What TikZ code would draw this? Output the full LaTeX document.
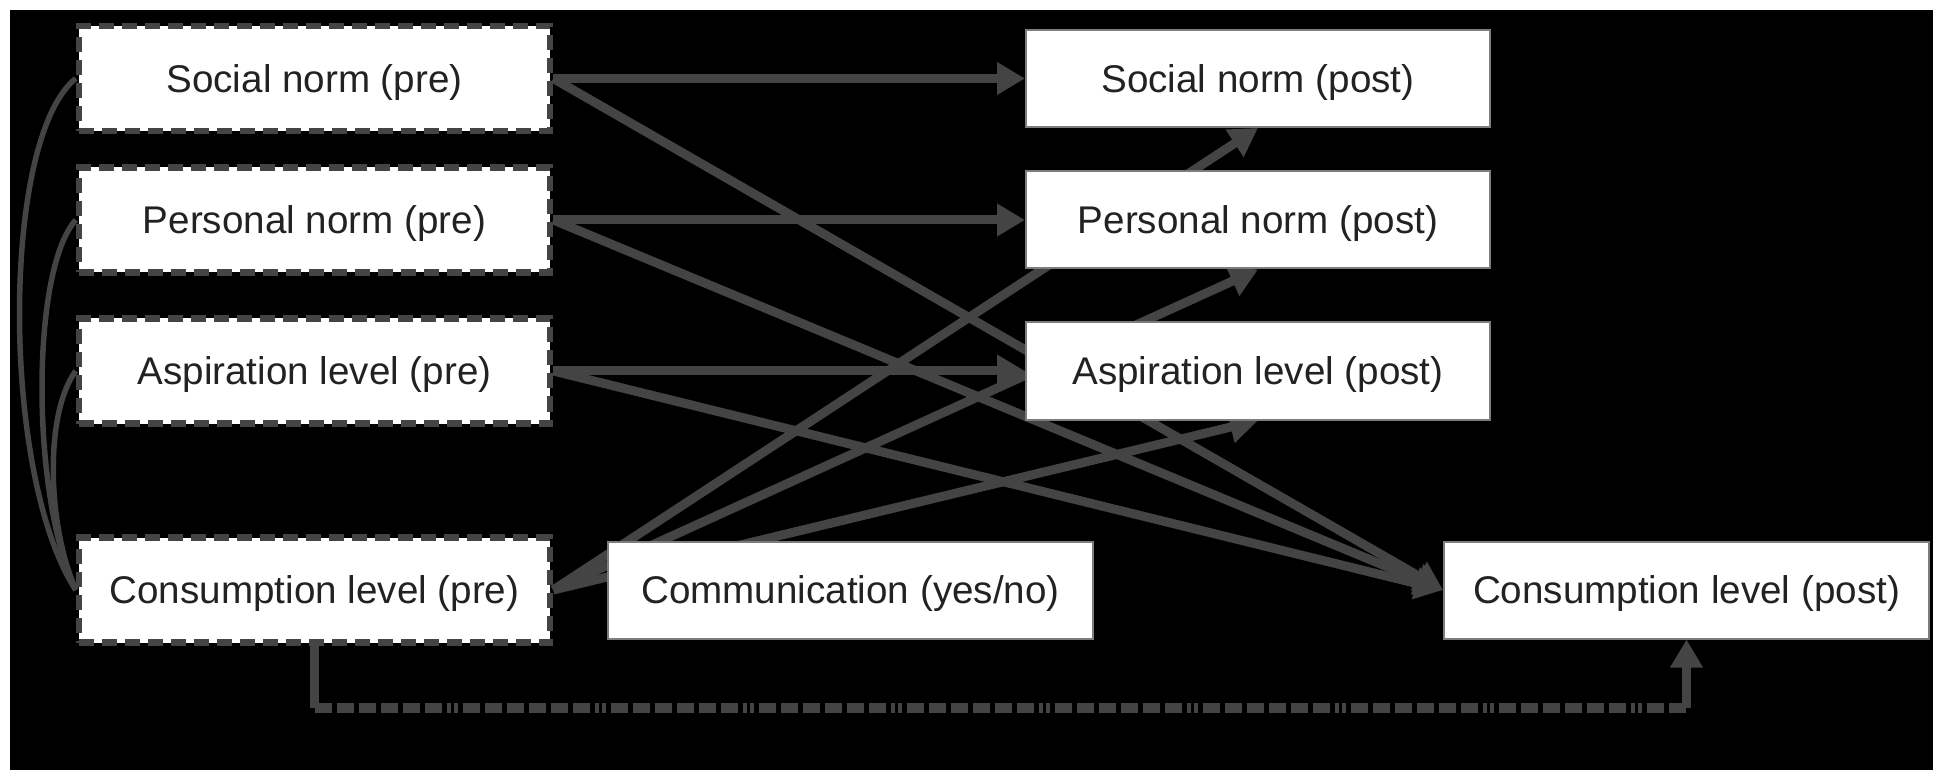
\documentclass[tikz,border=0pt]{standalone}
\usepackage{fontspec}
\setmainfont{Liberation Sans}
\usetikzlibrary{arrows.meta}
\definecolor{ln}{RGB}{68,68,68}
\definecolor{txt}{RGB}{34,34,34}
\definecolor{bx}{RGB}{125,125,125}
\pgfdeclarelayer{back}
\pgfdeclarelayer{bg}
\pgfsetlayers{back,bg,main}
\begin{document}
\begin{tikzpicture}[x=1pt,y=-1pt,
  lbl/.style={font=\fontsize{38.6}{46}\selectfont, text=txt, text height=27.6pt, text depth=0pt, inner sep=0pt},
  prebox/.style={lbl, draw=ln, fill=white, line width=6.5pt, dash pattern=on 15pt off 8pt, minimum width=471pt, minimum height=105pt},
  postbox/.style={lbl, draw=bx, fill=white, line width=2pt, minimum width=464pt, minimum height=97pt},
  arr/.style={draw=ln, line width=9pt, -{Triangle[length=28pt,width=31pt]}},
  plain/.style={draw=ln, line width=9pt},
  dd/.style={draw=ln, line width=10pt, dash pattern=on 17pt off 5pt on 17pt off 5pt on 17pt off 5pt on 17pt off 5pt on 17pt off 5pt on 17pt off 5pt on 4pt off 3pt on 4pt off 5pt},
  corr/.style={draw=ln, line width=5.5pt}]
\useasboundingbox (0,0) rectangle (1933,775);
\begin{pgfonlayer}{back}
\fill[white] (0,0) rectangle (1933,775);
\fill[black] (10,10) rectangle (1933,770);
\end{pgfonlayer}

\node[prebox] (snpre) at (314.5,78.5) {Social norm (pre)};
\node[prebox] (pnpre) at (314.5,220) {Personal norm (pre)};
\node[prebox] (alpre) at (314.5,371) {Aspiration level (pre)};
\node[prebox] (clpre) at (314.5,590) {Consumption level (pre)};

\node[postbox] (snpost) at (1258,78.5) {Social norm (post)};
\node[postbox] (pnpost) at (1258,220) {Personal norm (post)};
\node[postbox] (alpost) at (1258,371) {Aspiration level (post)};
\node[postbox, minimum width=485pt] (comm) at (850.5,590) {Communication (yes/no)};
\node[postbox, minimum width=485pt] (clpost) at (1686.5,590) {Consumption level (post)};

\path (clpre.south) ++(0,62) coordinate (d1);
\path (d1 -| clpost.south) coordinate (d2);

\begin{pgfonlayer}{bg}
\draw[arr] (snpre.east) -- (snpost.west);
\draw[arr] (pnpre.east) -- (pnpost.west);
\draw[arr] (alpre.east) -- (alpost.west);
\draw[arr] (snpre.east) -- (clpost.west);
\draw[arr] (pnpre.east) -- (clpost.west);
\draw[arr] (alpre.east) -- (clpost.west);
\draw[arr] (clpre.east) -- (snpost.south);
\draw[arr] (clpre.east) -- (pnpost.south);
\draw[arr] (clpre.east) -- (alpost.south);
\draw[plain] (clpre.south) -- (d1);
\draw[dd] (d1) -- (d2);
\draw[arr] (d2) -- (clpost.south);
\draw[corr] (clpre.west) .. controls +(-75,-115) and +(-75,60) .. (snpre.west);
\draw[corr] (clpre.west) .. controls +(-45,-95) and +(-45,50) .. (pnpre.west);
\draw[corr] (clpre.west) .. controls +(-30,-70) and +(-30,40) .. (alpre.west);
\end{pgfonlayer}
\end{tikzpicture}
\end{document}
